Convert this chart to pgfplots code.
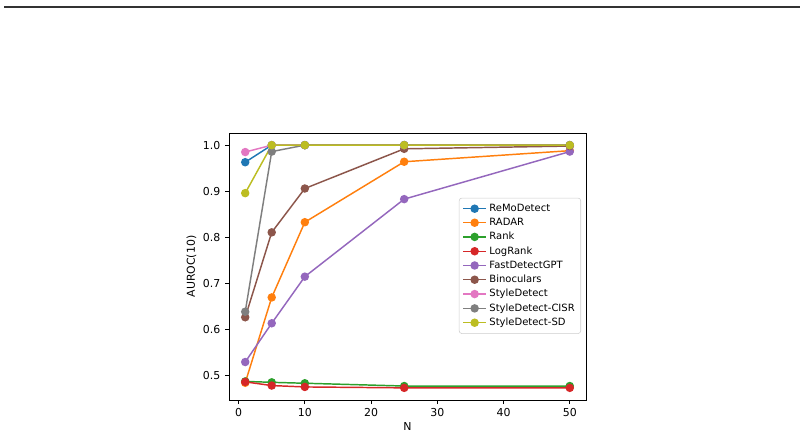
\documentclass[border=0pt]{standalone}
\usepackage{pgfplots}
\pgfplotsset{compat=1.18}
\usepackage{fontspec}
\setmainfont{DejaVu Sans}

\definecolor{c0}{HTML}{1F77B4}
\definecolor{c1}{HTML}{FF7F0E}
\definecolor{c2}{HTML}{2CA02C}
\definecolor{c3}{HTML}{D62728}
\definecolor{c4}{HTML}{9467BD}
\definecolor{c5}{HTML}{8C564B}
\definecolor{c6}{HTML}{E377C2}
\definecolor{c7}{HTML}{7F7F7F}
\definecolor{c8}{HTML}{BCBD22}

\begin{document}
\begin{tikzpicture}
% canvas 804 x 435 px, 1 px = 0.75pt
\path[use as bounding box] (0pt,0pt) rectangle (603pt,-326.25pt);
\draw[line width=1pt, black!80] (3pt,-5.25pt) -- (600pt,-5.25pt);
\begin{axis}[
  at={(171.75pt,-300pt)}, anchor=south west,
  scale only axis,
  width=267.75pt, height=200.25pt,
  xmin=-1.45, xmax=52.45,
  ymin=0.4477, ymax=1.0263,
  xtick={0,10,20,30,40,50},
  ytick={0.5,0.6,0.7,0.8,0.9,1.0},
  yticklabel style={/pgf/number format/fixed, /pgf/number format/fixed zerofill, /pgf/number format/precision=1},
  /pgf/number format/assume math mode=true,
  tick label style={font=\fontsize{8.2}{10}\selectfont},
  label style={font=\fontsize{8.2}{10}\selectfont},
  xlabel={N}, ylabel={AUROC(10)},
  xlabel style={yshift=3pt},
  ylabel style={yshift=-2pt},
  tick align=outside, xtick pos=bottom, ytick pos=left,
  major tick length=3pt,
  axis line style={line width=0.6pt},
  every tick/.style={black, line width=0.6pt},
  every axis plot/.append style={line width=1.1pt, mark=*, mark size=2.6pt},
  legend style={at={(0.986,0.248)}, anchor=south east, font=\fontsize{7.5}{9}\selectfont,
    draw=black!20, rounded corners=2pt, row sep=-0.45pt, inner sep=2.5pt},
  legend cell align=left,
]
\addplot[c0, mark options={fill=c0}] coordinates {(1,0.963) (5,1.0) (10,1.0) (25,1.0) (50,1.0)};
\addlegendentry{ReMoDetect}
\addplot[c1, mark options={fill=c1}] coordinates {(1,0.485) (5,0.670) (10,0.833) (25,0.964) (50,0.988)};
\addlegendentry{RADAR}
\addplot[c2, mark options={fill=c2}] coordinates {(1,0.488) (5,0.486) (10,0.484) (25,0.478) (50,0.478)};
\addlegendentry{Rank}
\addplot[c3, mark options={fill=c3}] coordinates {(1,0.487) (5,0.479) (10,0.476) (25,0.474) (50,0.474)};
\addlegendentry{LogRank}
\addplot[c4, mark options={fill=c4}] coordinates {(1,0.530) (5,0.614) (10,0.715) (25,0.883) (50,0.986)};
\addlegendentry{FastDetectGPT}
\addplot[c5, mark options={fill=c5}] coordinates {(1,0.627) (5,0.811) (10,0.906) (25,0.992) (50,0.998)};
\addlegendentry{Binoculars}
\addplot[c6, mark options={fill=c6}] coordinates {(1,0.985) (5,1.0) (10,1.0) (25,1.0) (50,1.0)};
\addlegendentry{StyleDetect}
\addplot[c7, mark options={fill=c7}] coordinates {(1,0.639) (5,0.986) (10,1.0) (25,1.0) (50,1.0)};
\addlegendentry{StyleDetect-CISR}
\addplot[c8, mark options={fill=c8}] coordinates {(1,0.896) (5,1.0) (10,1.0) (25,1.0) (50,1.0)};
\addlegendentry{StyleDetect-SD}
\end{axis}
\end{tikzpicture}
\end{document}
